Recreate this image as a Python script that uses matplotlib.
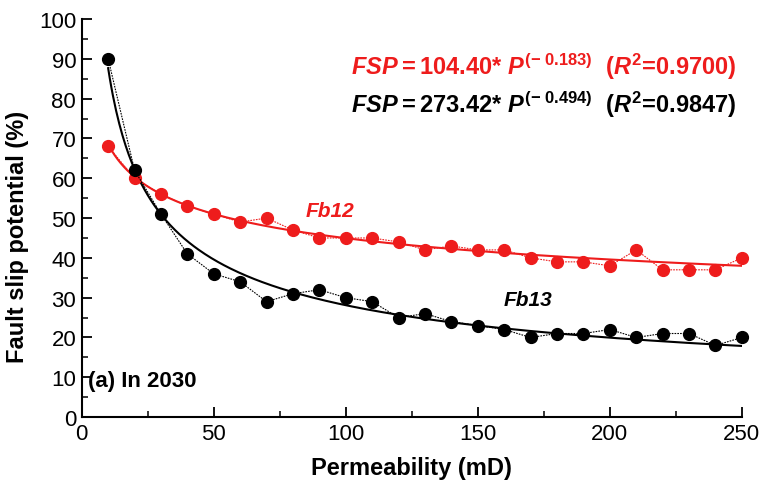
import matplotlib
matplotlib.use("Agg")
import matplotlib.pyplot as plt
import numpy as np
from matplotlib.ticker import MultipleLocator

plt.rcParams["font.family"] = ["Liberation Sans", "DejaVu Sans"]
plt.rcParams["mathtext.fontset"] = "custom"
plt.rcParams["mathtext.rm"] = "Liberation Sans:bold"
plt.rcParams["mathtext.bf"] = "Liberation Sans:bold"
plt.rcParams["mathtext.it"] = "Liberation Sans:bold:italic"

# ── Данные ──────────────────────────────────────────────────────────────
perm = [10, 20, 30, 40, 50, 60, 70, 80, 90, 100, 110, 120, 130,
        140, 150, 160, 170, 180, 190, 200, 210, 220, 230, 240, 250]
fsp_fb12 = [68, 60, 56, 53, 51, 49, 50, 47, 45, 45, 45, 44, 42,
            43, 42, 42, 40, 39, 39, 38, 42, 37, 37, 37, 40]
fsp_fb13 = [90, 62, 51, 41, 36, 34, 29, 31, 32, 30, 29, 25, 26,
            24, 23, 22, 20, 21, 21, 22, 20, 21, 21, 18, 20]

# коэффициенты степенной аппроксимации FSP = a * P^b
fit_fb12 = (104.40, -0.183)
fit_fb13 = (273.42, -0.494)

RED = "#ee1c1c"

fig = plt.figure(figsize=(7.64, 4.89), dpi=100)
ax = fig.add_axes([0.107, 0.145, 0.864, 0.814])

p = np.linspace(10, 250, 400)
ax.plot(p, fit_fb12[0] * p ** fit_fb12[1], color=RED, lw=1.5, zorder=2)
ax.plot(p, fit_fb13[0] * p ** fit_fb13[1], color="black", lw=1.5, zorder=2)

ax.plot(perm, fsp_fb12, color=RED, ls=(0, (1.5, 1)), lw=0.8,
        marker="o", ms=8.5, mec=RED, mfc=RED, zorder=3, clip_on=False)
ax.plot(perm, fsp_fb13, color="black", ls=(0, (1.5, 1)), lw=0.8,
        marker="o", ms=8.5, mec="black", mfc="black", zorder=3, clip_on=False)

ax.set_xlim(0, 250)
ax.set_ylim(0, 100)
ax.xaxis.set_major_locator(MultipleLocator(50))
ax.xaxis.set_minor_locator(MultipleLocator(25))
ax.yaxis.set_major_locator(MultipleLocator(10))
ax.yaxis.set_minor_locator(MultipleLocator(5))
for s in ("top", "right"):
    ax.spines[s].set_visible(False)
for s in ("left", "bottom"):
    ax.spines[s].set_linewidth(1.5)
ax.tick_params(which="major", direction="in", length=7, width=1.3,
               labelsize=16, pad=4)
ax.tick_params(which="minor", direction="in", length=4, width=1.1)
for lbl in ax.get_xticklabels() + ax.get_yticklabels():
    lbl.set_fontfamily(["Liberation Sans Narrow", "Liberation Sans"])

ax.set_xlabel("Permeability (mD)", fontsize=17, fontweight="bold", labelpad=9)
ax.set_ylabel("Fault slip potential (%)", fontsize=17, fontweight="bold")
ax.yaxis.set_label_coords(-0.08, 0.455)

ax.text(0.46, 0.863,
        r"$FSP\mathrm{= 104.40}$* $P^{\mathrm{(-\ 0.183)}}$  ($R^{2}$=0.9700)",
        transform=fig.transFigure, color=RED, fontsize=17,
        fontweight="bold", va="center", ha="left")
ax.text(0.46, 0.785,
        r"$FSP\mathrm{= 273.42}$* $P^{\mathrm{(-\ 0.494)}}$  ($R^{2}$=0.9847)",
        transform=fig.transFigure, color="black", fontsize=17,
        fontweight="bold", va="center", ha="left")

ax.text(94, 52, "Fb12", color=RED, fontsize=15, fontweight="bold",
        style="italic", ha="center", va="center")
ax.text(169, 29.5, "Fb13", color="black", fontsize=15, fontweight="bold",
        style="italic", ha="center", va="center")
ax.text(2.3, 9.3, "(a) In 2030", color="black", fontsize=16, fontweight="bold",
        ha="left", va="center")

fig.savefig("out.png", dpi=100)
